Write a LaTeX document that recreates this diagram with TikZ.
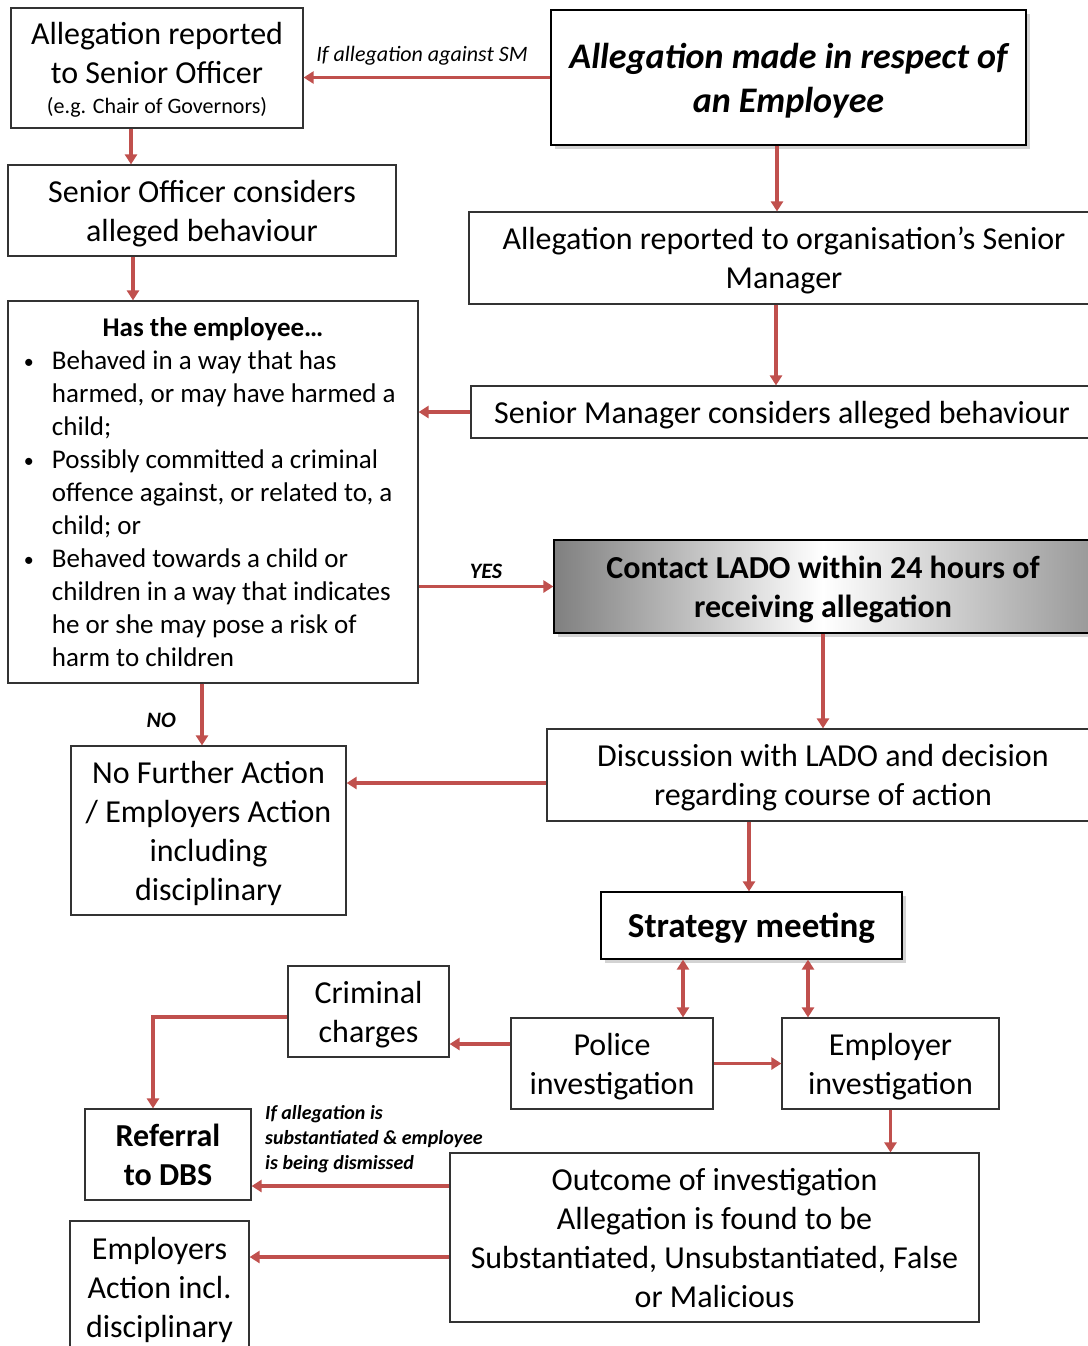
\documentclass[tikz,border=0pt]{standalone}
\usepackage{fontspec}
\setmainfont{Carlito}
\usetikzlibrary{arrows.meta,shadows}
\definecolor{arrowred}{HTML}{C0504D}
\newcommand{\bul}{\makebox[14pt][l]{\raisebox{0.5pt}{\fontsize{10}{10}\selectfont\textbullet}}}

\begin{document}
\begin{tikzpicture}[x=0.5pt, y=-0.5pt,
  every node/.style={font=\fontsize{16}{19.5}\selectfont},
  box/.style={draw=black!80, line width=0.6pt, fill=white, align=center, inner sep=2pt, text depth=0pt},
  shadowbox/.style={box, draw=black, drop shadow={opacity=0.35, shadow xshift=2pt, shadow yshift=-2pt}},
  arr/.style={draw=arrowred, line width=1.6pt, -{Triangle[length=5pt,width=6pt]}},
  darr/.style={arr, {Triangle[length=5pt,width=6pt]}-{Triangle[length=5pt,width=6pt]}},
  lbl/.style={font=\fontsize{11}{13}\selectfont\itshape},
  yn/.style={font=\fontsize{11}{13}\selectfont\bfseries\itshape},
  blbl/.style={font=\fontsize{10}{12.5}\selectfont\bfseries\itshape}]
\clip (0,0) rectangle (1088,1346);

% left column, top
\node[box, minimum width=146pt, minimum height=60pt] (sorep) at (157,68)
  {Allegation reported\\to Senior Officer\\[-4.5pt]{\fontsize{11}{13}\selectfont (e.g. Chair of Governors)}};
\node[box, minimum width=194pt, minimum height=45.5pt] (socons) at (202,210.5)
  {Senior Officer considers\\alleged behaviour};
\node[box, minimum width=205pt, minimum height=191pt, align=left,
  font=\fontsize{13.5}{16.5}\selectfont] (question) at (213,492)
  {\makebox[189pt]{\bfseries Has the employee…}\\
   \bul Behaved in a way that has\\
   \hspace*{14pt}harmed, or may have harmed a\\
   \hspace*{14pt}child;\\
   \bul Possibly committed a criminal\\
   \hspace*{14pt}offence against, or related to, a\\
   \hspace*{14pt}child; or\\
   \bul Behaved towards a child or\\
   \hspace*{14pt}children in a way that indicates\\
   \hspace*{14pt}he or she may pose a risk of\\
   \hspace*{14pt}harm to children};
\node[box, minimum width=137.5pt, minimum height=84.5pt] (nfa) at (208.5,830.5)
  {No Further Action\\/ Employers Action\\including\\disciplinary};

% right column, top
\node[shadowbox, minimum width=237.5pt, minimum height=67.5pt,
  font=\fontsize{18}{22}\selectfont\bfseries\itshape] (allegation) at (788.5,77.5)
  {Allegation made in respect of\\an Employee};
\node[box, minimum width=315pt, minimum height=46pt] (smrep) at (784,258)
  {Allegation reported to organisation’s Senior\\Manager};
\node[box, minimum width=311pt, minimum height=26pt] (smcons) at (782,412)
  {Senior Manager considers alleged behaviour};
\node[shadowbox, minimum width=269pt, minimum height=46.5pt,
  left color=black!50, right color=black!40, middle color=white,
  font=\fontsize{16}{19.5}\selectfont\bfseries] (lado) at (823,586.5)
  {Contact LADO within 24 hours of\\receiving allegation};
\node[box, minimum width=276pt, minimum height=46pt] (discuss) at (823,775)
  {Discussion with LADO and decision\\regarding course of action};

% investigation
\node[shadowbox, minimum width=150.5pt, minimum height=33.5pt,
  font=\fontsize{17.5}{21}\selectfont\bfseries] (strategy) at (751.5,925.5) {Strategy meeting};
\node[box, minimum width=80.5pt, minimum height=45.5pt] (criminal) at (368.5,1011.5) {Criminal\\charges};
\node[box, minimum width=101pt, minimum height=45.5pt] (police) at (612,1063.5) {Police\\investigation};
\node[box, minimum width=108.5pt, minimum height=45.5pt] (employer) at (890.5,1063.5) {Employer\\investigation};
\node[box, minimum width=83pt, minimum height=45.5pt,
  font=\fontsize{16}{19.5}\selectfont\bfseries] (dbs) at (168,1154.5) {Referral\\to DBS};
\node[box, minimum width=264.5pt, minimum height=84.5pt] (outcome) at (714.5,1237.5)
  {Outcome of investigation\\Allegation is found to be\\Substantiated, Unsubstantiated, False\\or Malicious};
\node[box, minimum width=89.5pt, minimum height=66pt] (empaction) at (159.5,1287)
  {Employers\\Action incl.\\disciplinary};

% arrows
\draw[arr] (allegation.west) -- (allegation.west -| sorep.east)
  node[lbl, pos=0.52, above=2pt] {If allegation against SM};
\draw[arr] ([xshift=-13pt]sorep.south) -- ([xshift=-13pt]sorep.south |- socons.north);
\draw[arr] ([xshift=-34.5pt]socons.south) -- ([xshift=-34.5pt]socons.south |- question.north);
\draw[arr] ([xshift=-5.75pt]allegation.south) -- ([xshift=-5.75pt]allegation.south |- smrep.north);
\draw[arr] ([xshift=-4pt]smrep.south) -- ([xshift=-4pt]smrep.south |- smcons.north);
\draw[arr] (smcons.west) -- (smcons.west -| question.east);
\draw[arr] (lado.west -| question.east) -- (lado.west) node[yn, midway, above] {YES};
\draw[arr] ([xshift=-5.5pt]question.south) -- ([xshift=-5.5pt]question.south |- nfa.north)
  node[yn, pos=0.6, left=9pt] {NO};
\draw[arr] (lado.south) -- (discuss.north);
\draw[arr] ([yshift=-4pt]discuss.west) -- ([yshift=-4pt]discuss.west -| nfa.east);
\draw[arr] ([xshift=-37pt]discuss.south) -- ([xshift=-37pt]discuss.south |- strategy.north);
\draw[darr] ([xshift=-34.25pt]strategy.south) -- ([xshift=-34.25pt]strategy.south |- police.north);
\draw[darr] ([xshift=28.25pt]strategy.south) -- ([xshift=28.25pt]strategy.south |- employer.north);
\draw[arr] ([yshift=9.75pt]police.west) -- ([yshift=9.75pt]police.west -| criminal.east);
\draw[arr] (police.east) -- (employer.west);
\draw[arr] ([yshift=-2.75pt]criminal.west) -| ([xshift=-7.5pt]dbs.north);
\draw[arr] (employer.south) -- (employer.south |- outcome.north);
\draw[arr] ([yshift=25.75pt]outcome.west) -- ([yshift=25.75pt]outcome.west -| dbs.east)
  node[blbl, pos=1, above right, align=left, inner sep=6pt]
  {If allegation is\\substantiated \& employee\\is being dismissed};
\draw[arr] ([yshift=-9.75pt]outcome.west) -- ([yshift=-9.75pt]outcome.west -| empaction.east);
\end{tikzpicture}
\end{document}
